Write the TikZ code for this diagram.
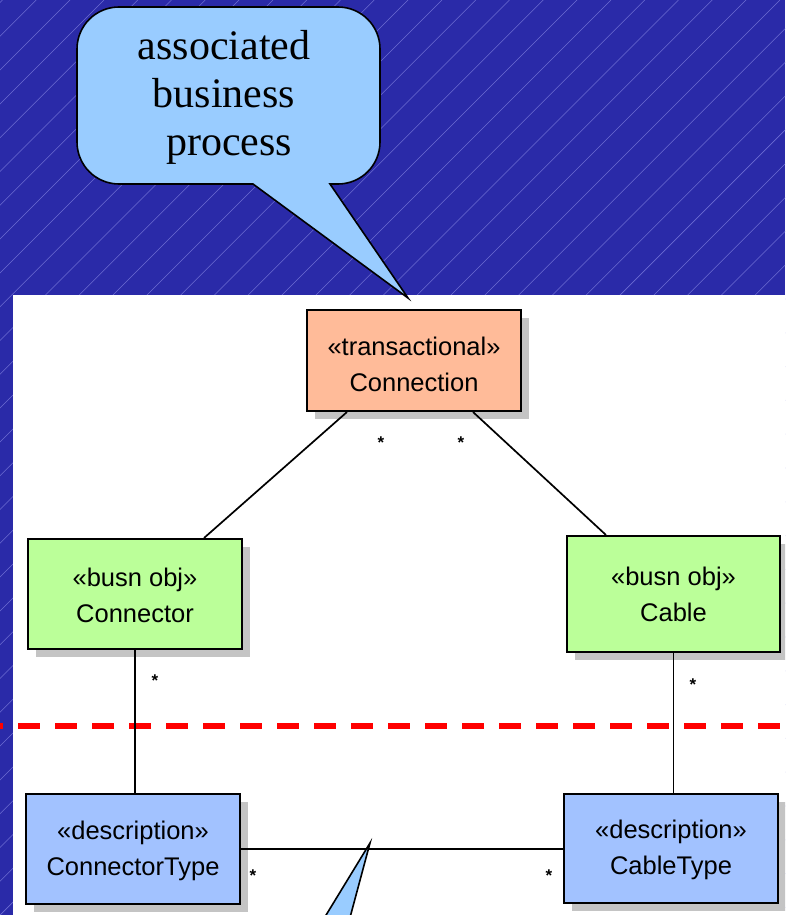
\documentclass[tikz,border=0pt]{standalone}
\usepackage{fontspec}
\setmainfont{Liberation Serif}
\newfontfamily\umlfont{Liberation Sans}
\usetikzlibrary{shadows}

\definecolor{slideblue}{HTML}{2A2AA8}
\definecolor{stripeblue}{HTML}{6C6CD2}
\definecolor{bubblefill}{HTML}{99CCFF}
\definecolor{txfill}{HTML}{FFBB99}
\definecolor{objfill}{HTML}{BBFF99}
\definecolor{descfill}{HTML}{A2C2FF}
\definecolor{shadowgray}{HTML}{C4C4C4}

\tikzset{
  stripe/.style={draw=stripeblue, line width=0.55pt},
  classbox/.style={draw=black, line width=2pt, align=center, inner sep=0pt,
    font=\umlfont\fontsize{25.5}{36}\selectfont,
    general shadow={fill=shadowgray, shadow xshift=8pt, shadow yshift=-8pt}},
  assoc/.style={draw=black, line width=1.7pt},
  mult/.style={font=\umlfont\bfseries\fontsize{17}{17}\selectfont, inner sep=0pt},
  callout/.style={draw=black, fill=bubblefill, line width=1.6pt, line join=miter},
  divider/.style={draw=red, line width=6pt, dash pattern=on 22pt off 15pt}
}

\begin{document}
\begin{tikzpicture}[x=1pt, y=-1pt]
  \useasboundingbox (0,0) rectangle (785,915);
  \begin{scope}
    \clip (0,0) rectangle (785,915);

    % slide background with faint diagonal hatching
    \fill[slideblue] (0,0) rectangle (785,915);
    \foreach \k in {0,...,51} {
      \draw[stripe] (2.5+33.8*\k, 0) -- ++(-915, 915);
    }

    % white diagram panel
    \fill[white] (13,295) rectangle (790,920);

    % layer divider
    \draw[divider] (-19,726) -- (800,726);

    % classes
    \node[classbox, fill=txfill, minimum width=214pt, minimum height=101pt]
      (conn) at (414,360.5) {\rule{0pt}{27pt}«transactional»\\Connection};
    \node[classbox, fill=objfill, minimum width=214pt, minimum height=110pt]
      (busA) at (135,594) {\rule{0pt}{21pt}«busn obj»\\Connector};
    \node[classbox, fill=objfill, minimum width=213pt, minimum height=116pt]
      (busB) at (673.5,594) {«busn obj»\\Cable};
    \node[classbox, fill=descfill, minimum width=214pt, minimum height=110pt]
      (descA) at (133,849) {\rule{0pt}{22pt}«description»\\ConnectorType};
    \node[classbox, fill=descfill, minimum width=214pt, minimum height=109pt]
      (descB) at (671,848.5) {\rule{0pt}{22pt}«description»\\CableType};

    % associations
    \draw[assoc] ([xshift=41pt]conn.south west) -- ([xshift=177pt]busA.north west);
    \draw[assoc] ([xshift=-49pt]conn.south east) -- ([xshift=40pt]busB.north west);
    \draw[assoc] (busA.south) -- (busA.south |- descA.north);
    \draw[assoc] (busB.south) -- (busB.south |- descB.north);
    \draw[assoc] (descA.east) -- (descA.east -| descB.west);

    % multiplicities
    \node[mult] (m1) at (381,443) {*};
    \node[mult] (m2) at (461,443) {*};
    \node[mult] (m3) at (155,681) {*};
    \node[mult] (m4) at (693,685) {*};
    \node[mult] (m5) at (253,876) {*};
    \node[mult] (m6) at (549,876) {*};

    % callout pointing at the ConnectorType--CableType association
    \coordinate (lowtip) at (370,843);
    \draw[callout] (320,925) -- (lowtip) -- (348,925);

    % callout over the Connection class
    \coordinate (toptip) at (408,298);
    \draw[callout] (253,184) -- (toptip) -- (330,184)
      [rounded corners=42pt] -- (380,184) -- (380,7) -- (77,7) -- (77,184)
      [sharp corners] -- cycle;
    \node[font=\fontsize{42}{48}\selectfont, align=center, inner sep=0pt]
      (note) at (224,97) {associated\\business\\\hspace*{10pt}process};
  \end{scope}
\end{tikzpicture}
\end{document}
